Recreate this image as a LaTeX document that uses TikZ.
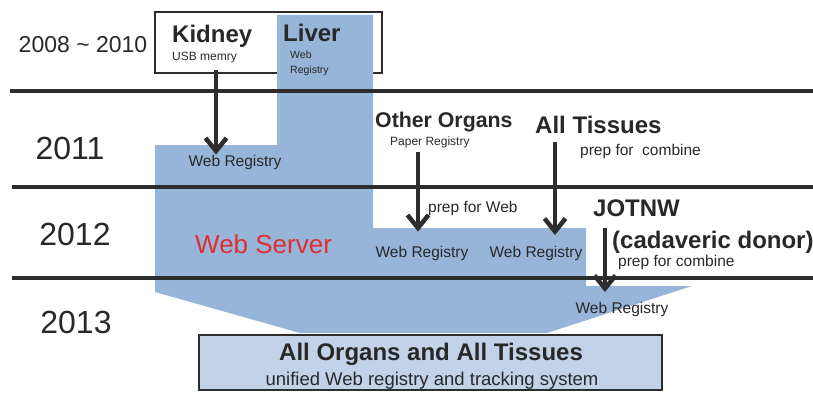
\documentclass[tikz,border=0pt]{standalone}
\usepackage{fontspec}
\setmainfont{Liberation Sans}
\usepackage{tikz}
\usetikzlibrary{arrows.meta}

\definecolor{webblue}{RGB}{151,180,217}
\definecolor{boxblue}{RGB}{194,210,233}
\definecolor{lineg}{RGB}{45,45,45}
\definecolor{servred}{RGB}{225,45,50}
\definecolor{txt}{RGB}{40,40,40}

\tikzset{
  yr/.style={font=\fontsize{32}{32}\selectfont, anchor=base, inner sep=0},
  organ/.style={font=\fontsize{24}{24}\selectfont\bfseries, anchor=base west, inner sep=0},
  note/.style={font=\fontsize{12}{12}\selectfont, anchor=base west, inner sep=0},
  reg/.style={font=\fontsize{15.5}{15.5}\selectfont, anchor=base, inner sep=0},
  prep/.style={font=\fontsize{15.5}{15.5}\selectfont, anchor=base west, inner sep=0},
  yline/.style={line width=3.2pt, lineg},
  arr/.style={line width=4.5pt, lineg, -{Straight Barb[length=13pt,width=21pt]}},
  kbox/.style={draw=lineg, line width=1.3pt, fill=white, inner sep=0,
    minimum width=227pt, minimum height=61pt},
  allbox/.style={draw=lineg, line width=2.8pt, fill=boxblue, inner sep=0,
    minimum width=463pt, minimum height=55pt},
}

\begin{document}
\begin{tikzpicture}[x=1pt, y=-1pt, color=txt]
    \useasboundingbox (0,0) rectangle (813,401);
    % kidney box
    \node[kbox](kbox) at (268.5,42.5){};
    % web server area
    \fill[webblue] (277,15) -- (373,15) -- (373,228) -- (586,228)
      -- (586,286) -- (692,286) -- (547,333) -- (300,333)
      -- (155,292) -- (155,145) -- (277,145) -- cycle;
    % year lines
    \draw[yline] (10,91) -- (813,91);
    \draw[yline] (12,187) -- (813,187);
    \draw[yline] (12,278) -- (813,278);
    % all organs box
    \node[allbox](all) at (430.5,362.5){};

    % years
    \node[yr, font=\fontsize{23}{23}\selectfont](y10) at (83,53){2008 \char`\~{} 2010};
    \node[yr](y11) at (70,159){2011};
    \node[yr](y12) at (75,245){2012};
    \node[yr](y13) at (76,333){2013};

    % kidney
    \node[organ](kid) at (172,43){Kidney};
    \node[note](usb) at (172,61){USB memry};
    \node[reg](kreg) at (235,166){Web Registry};
    % liver
    \node[organ](liv) at (283,42){Liver};
    \node[note, font=\fontsize{10.5}{10.5}\selectfont](lweb) at (290,59){Web};
    \node[note, font=\fontsize{10.5}{10.5}\selectfont](lreg) at (290,74){Registry};
    % other organs
    \node[organ, font=\fontsize{21.3}{21.3}\selectfont\bfseries](oth) at (375,128){Other Organs};
    \node[note](pap) at (390,145){Paper Registry};
    \node[prep](pweb) at (428,212){prep for Web};
    \node[reg](oreg) at (422,257){Web Registry};
    % all tissues
    \node[organ](tis) at (535,133){All Tissues};
    \node[prep](pcomb) at (580,155){prep for \ combine};
    \node[reg](treg) at (536,257){Web Registry};
    % jotnw
    \node[organ](jot) at (593,216){JOTNW};
    \node[organ](cad) at (612,248){(cadaveric donor)};
    \node[prep](jcomb) at (618,266){prep for combine};
    \node[reg](jreg) at (622,313){Web Registry};
    % web server
    \node[prep, font=\fontsize{26}{26}\selectfont, text=servred](serv) at (195,253){Web Server};
    % unified
    \node[organ, anchor=base](allt) at (431,360){All Organs and All Tissues};
    \node[reg, font=\fontsize{18.5}{18.5}\selectfont](allu) at (432,385){unified Web registry and tracking system};

    % arrows
    \coordinate (ktop) at (216,70);
    \coordinate (otop) at (418,152);
    \coordinate (ttop) at (555,142);
    \coordinate (jtop) at (605,228);
    \draw[arr] (ktop) -- (ktop |- kreg.north);
    \draw[arr, shorten >=14pt] (otop) -- (otop |- oreg.north);
    \draw[arr, shorten >=10.5pt] (ttop) -- (ttop |- treg.north);
    \draw[arr, shorten >=9.5pt] (jtop) -- (jtop |- jreg.north);
  \end{tikzpicture}
\end{document}
